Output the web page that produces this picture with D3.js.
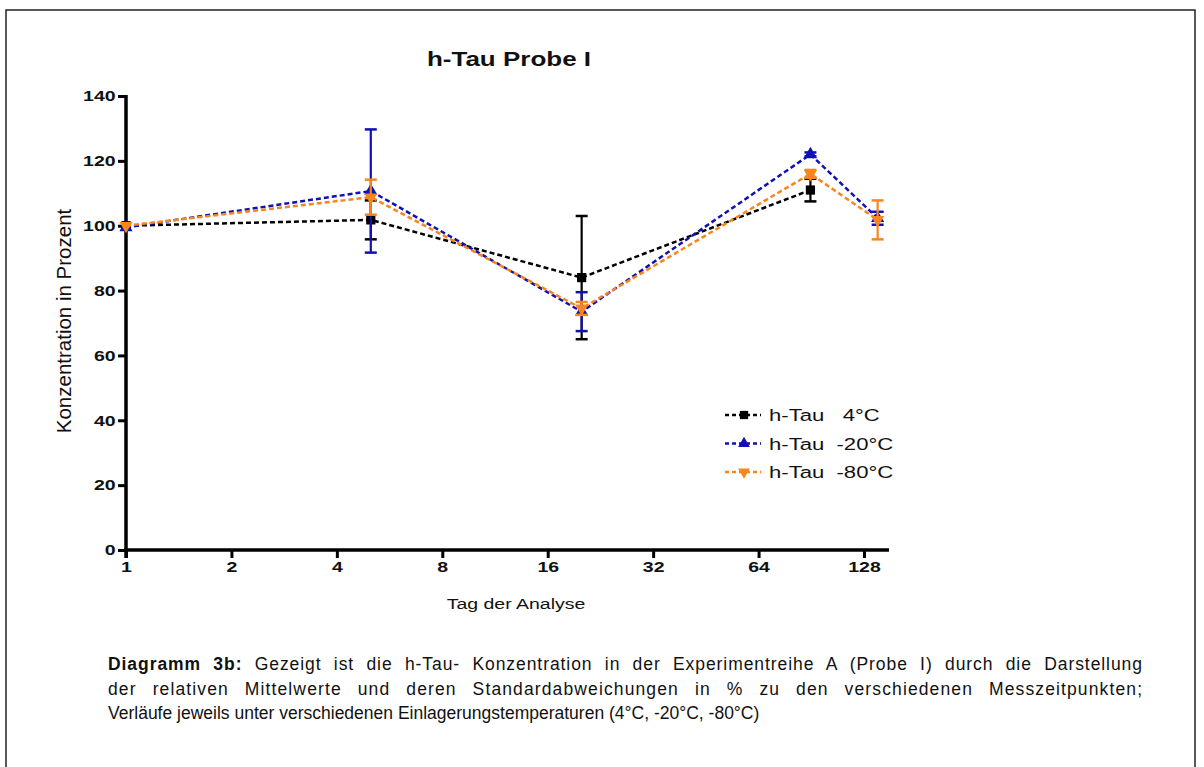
<!DOCTYPE html>
<html>
<head>
<meta charset="utf-8">
<script src="https://cdn.jsdelivr.net/npm/d3@7"></script>
<style>
  body { margin: 0; background: #fff; }
  svg text { font-family: "Liberation Sans", Arial, sans-serif; fill: #111; }
</style>
</head>
<body>
<svg id="chart" width="1204" height="767"></svg>
<script>
// measurement days (log2 x axis)
const days = [1, 5, 20, 90, 140]
const xTicks = [1, 2, 4, 8, 16, 32, 64, 128]
const yTicks = [0, 20, 40, 60, 80, 100, 120, 140]

// relative means and standard deviations in %
const mean4C = [100, 101.8, 84, 111, null]
const sd4C = [0, 6, 19, 3.5, null]
const mean20C = [99.5, 110.7, 73.5, 122, 102.3]
const sd20C = [0, 19, 6, 0.6, 2]
const mean80C = [100, 108.8, 74.5, 116, 101.8]
const sd80C = [0, 5.4, 2, 1.2, 6]

const seriesNames = ['h-Tau   4°C', 'h-Tau  -20°C', 'h-Tau  -80°C']
const seriesColors = ['#000000', '#1010b4', '#f7861c']

const series = [
  { name: seriesNames[0], color: seriesColors[0], symbol: d3.symbolSquare, size: 85, rot: 0, mean: mean4C, sd: sd4C },
  { name: seriesNames[1], color: seriesColors[1], symbol: d3.symbolTriangle, size: 75, rot: 0, mean: mean20C, sd: sd20C },
  { name: seriesNames[2], color: seriesColors[2], symbol: d3.symbolTriangle, size: 75, rot: 180, mean: mean80C, sd: sd80C }
]

const captionBold = 'Diagramm 3b:'
const captionLines = [
  ' Gezeigt ist die h-Tau- Konzentration in der Experimentreihe A (Probe I) durch die Darstellung',
  'der relativen Mittelwerte und deren Standardabweichungen in % zu den verschiedenen Messzeitpunkten;',
  'Verläufe jeweils unter verschiedenen Einlagerungstemperaturen (4°C, -20°C, -80°C)'
]

// the embedded chart image is stretched horizontally
const stretch = 'scale(1.3,1)'

const svg = d3.select('#chart')

// outer frame
svg.append('rect')
  .attr('x', 6).attr('y', 10)
  .attr('width', 1189).attr('height', 780)
  .attr('fill', 'none')
  .attr('stroke', '#222')
  .attr('stroke-width', 1.5)

const x = d3.scaleLog().base(2).domain([1, 128]).range([126, 864])
const y = d3.scaleLinear().domain([0, 140]).range([550, 96])

// title
svg.append('text')
  .attr('transform', `translate(509,66) ${stretch}`)
  .attr('text-anchor', 'middle')
  .style('font-size', '20px')
  .style('font-weight', 'bold')
  .text('h-Tau Probe I')

// x axis
const gx = svg.append('g')
  .attr('transform', `translate(0,${y(0)})`)
  .call(d3.axisBottom(x).tickValues(xTicks).tickFormat(d3.format('d')).tickSize(8).tickPadding(3))
gx.select('.domain').remove()
gx.selectAll('.tick line').attr('stroke', '#000').attr('stroke-width', 3)
gx.selectAll('.tick text')
  .attr('transform', stretch)
  .style('font-size', '15px').style('font-weight', 'bold').attr('fill', '#111')
gx.append('line')
  .attr('x1', x(1) - 2).attr('x2', x.range()[1] + 25)
  .attr('stroke', '#000').attr('stroke-width', 3.5)

// y axis
const gy = svg.append('g')
  .attr('transform', `translate(${x(1)},0)`)
  .call(d3.axisLeft(y).tickValues(yTicks).tickSize(8).tickPadding(0))
gy.select('.domain').remove()
gy.selectAll('.tick line').attr('stroke', '#000').attr('stroke-width', 3)
gy.selectAll('.tick text')
  .attr('transform', stretch)
  .style('font-size', '15px').style('font-weight', 'bold').attr('fill', '#111')
gy.append('line')
  .attr('y1', y(140) - 1).attr('y2', y(0) + 8)
  .attr('stroke', '#000').attr('stroke-width', 3.5)

// axis titles
svg.append('text')
  .attr('transform', `translate(516,609) ${stretch}`)
  .attr('text-anchor', 'middle')
  .style('font-size', '15px')
  .text('Tag der Analyse')

svg.append('text')
  .attr('transform', `translate(71,${(y(0) + y(140)) / 2 - 2}) rotate(-90)`)
  .attr('text-anchor', 'middle')
  .style('font-size', '20.5px')
  .text('Konzentration in Prozent')

// series
const line = d3.line()
  .defined(d => d.v != null)
  .x(d => x(d.day))
  .y(d => y(d.v))

series.forEach(s => {
  const pts = days.map((day, i) => ({ day, v: s.mean[i], sd: s.sd[i] }))
  const valid = pts.filter(d => d.v != null)
  const g = svg.append('g')

  g.append('path')
    .datum(pts)
    .attr('d', line)
    .attr('fill', 'none')
    .attr('stroke', s.color)
    .attr('stroke-width', 2.5)
    .attr('stroke-dasharray', '5,3')

  const err = g.selectAll('.err').data(valid.filter(d => d.sd > 0)).join('g')
  err.append('line')
    .attr('x1', d => x(d.day)).attr('x2', d => x(d.day))
    .attr('y1', d => y(d.v + d.sd)).attr('y2', d => y(d.v - d.sd))
    .attr('stroke', s.color).attr('stroke-width', 2.2)
  err.selectAll('.cap').data(d => [d.v + d.sd, d.v - d.sd].map(v => ({ day: d.day, v }))).join('line')
    .attr('x1', d => x(d.day) - 6).attr('x2', d => x(d.day) + 6)
    .attr('y1', d => y(d.v)).attr('y2', d => y(d.v))
    .attr('stroke', s.color).attr('stroke-width', 2.5)

  g.selectAll('.mark').data(valid).join('path')
    .attr('transform', d => `translate(${x(d.day)},${y(d.v)}) rotate(${s.rot})`)
    .attr('d', d3.symbol(s.symbol, s.size))
    .attr('fill', s.color)
})

// legend
const legend = svg.append('g').attr('transform', 'translate(725,415)')
series.forEach((s, i) => {
  const row = legend.append('g').attr('transform', `translate(0,${i * 28.5})`)
  row.append('line')
    .attr('x1', 0).attr('x2', 36)
    .attr('stroke', s.color).attr('stroke-width', 2.5)
    .attr('stroke-dasharray', '4,3')
  row.append('path')
    .attr('transform', `translate(19,0) rotate(${s.rot})`)
    .attr('d', d3.symbol(s.symbol, s.size * 0.8))
    .attr('fill', s.color)
  row.append('text')
    .attr('transform', `translate(44,6) ${stretch}`)
    .attr('xml:space', 'preserve')
    .style('white-space', 'pre')
    .style('font-size', '17px')
    .text(s.name)
})

// caption, first two lines justified to the right margin
const captionWidth = 1034
const cap = svg.append('g').style('font-size', '17.5px')
const l1 = cap.append('text')
  .attr('x', 108).attr('y', 670)
  .attr('xml:space', 'preserve').style('white-space', 'pre')
l1.append('tspan').style('font-weight', 'bold').text(captionBold)
l1.append('tspan').text(captionLines[0])
const l2 = cap.append('text')
  .attr('x', 108).attr('y', 695)
  .text(captionLines[1])
cap.append('text')
  .attr('x', 108).attr('y', 719)
  .text(captionLines[2])

// spread the missing width half over the gaps, half over the letters
function justify(t, str) {
  const missing = captionWidth - t.node().getComputedTextLength()
  const gaps = (str.match(/ /g) || []).length
  const letters = str.length - 1
  const ls = missing / 2 / letters
  const ws = missing / 2 / gaps
  t.style('letter-spacing', `${ls}px`).style('word-spacing', `${ws}px`)
}
justify(l1, captionBold + captionLines[0])
justify(l2, captionLines[1])
</script>
</body>
</html>
